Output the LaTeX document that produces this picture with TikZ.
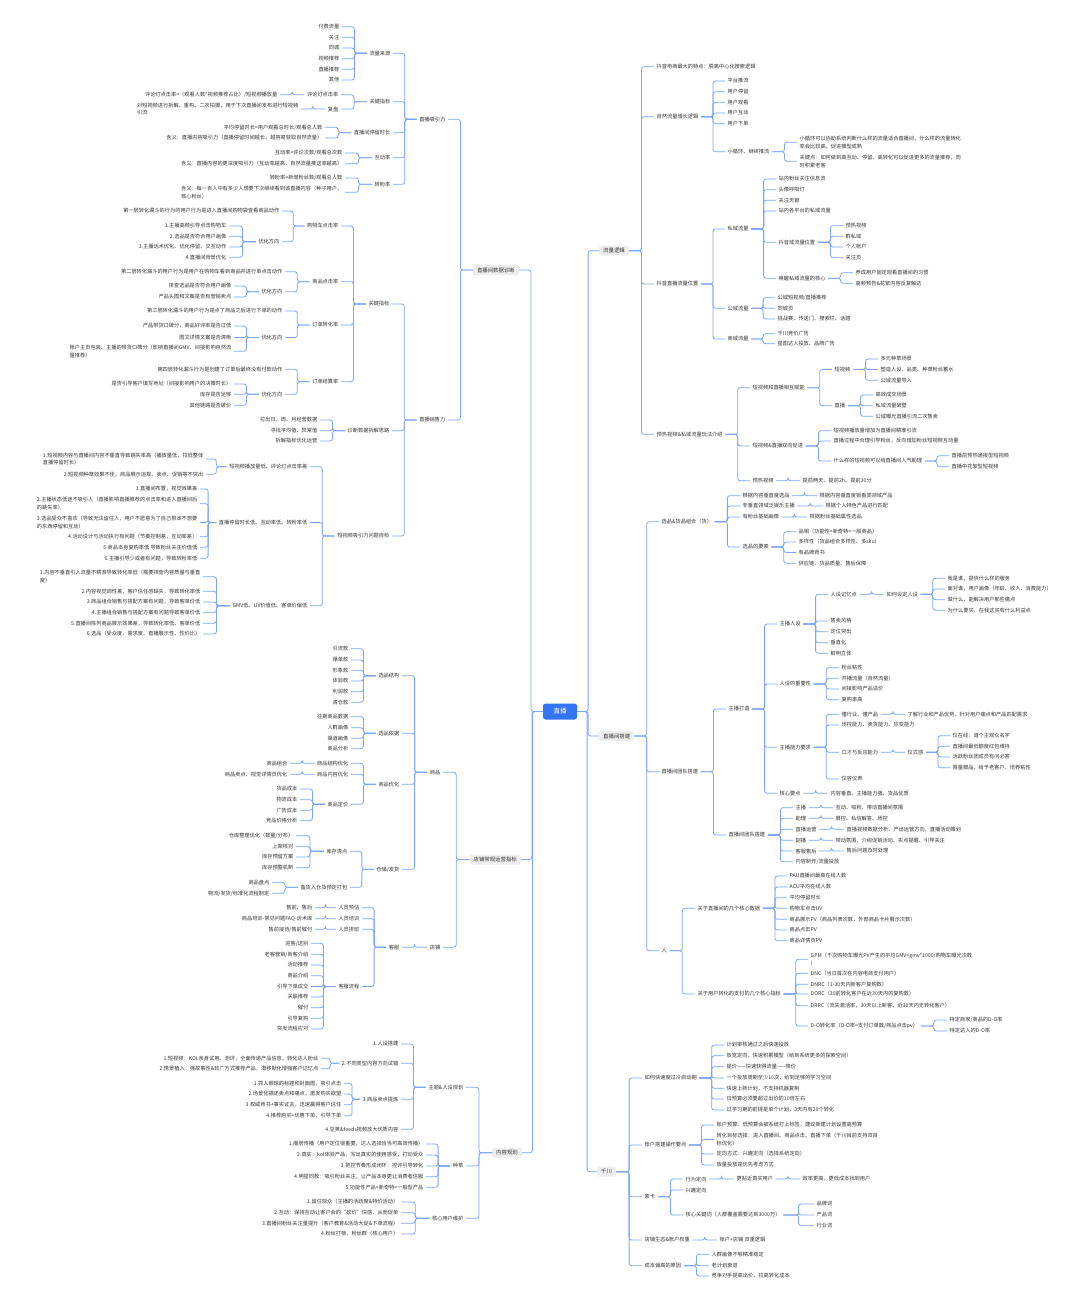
\documentclass[tikz,border=0pt]{standalone}
\usepackage{fontspec}
\setmainfont{Noto Sans CJK SC}
\usetikzlibrary{calc}
\definecolor{linkblue}{RGB}{125,165,248}
\definecolor{rootblue}{RGB}{52,116,247}
\definecolor{topicgray}{RGB}{238,238,238}
\definecolor{textgray}{RGB}{51,51,51}
\newcommand\lk[2]{\foreach \kid in {#2}{\draw[link] let \p1=(#1.west), \p2=(\kid.east) in (#1.west) -- ({(\x1+\x2)/2},\y1) |- (\kid.east);}}
\newcommand\rk[2]{\foreach \kid in {#2}{\draw[link] let \p1=(#1.east), \p2=(\kid.west) in (#1.east) -- ({(\x1+\x2)/2},\y1) |- (\kid.west);}}
\begin{document}
\begin{tikzpicture}[x=1pt, y=-1pt,
    every node/.style={font=\fontsize{5.2}{7.8}\selectfont, text=textgray, inner xsep=2.5pt, inner ysep=1pt},
    ln/.style={anchor=east},
    rn/.style={anchor=west},
    two/.style={align=left},
    topic/.style={fill=topicgray, rounded corners=2pt, inner xsep=4pt, inner ysep=2.5pt, font=\fontsize{5.4}{7}\selectfont},
    rootbox/.style={fill=rootblue, text=white, rounded corners=2.5pt, minimum width=34pt, minimum height=16pt, font=\fontsize{6.5}{8}\selectfont},
    link/.style={draw=linkblue, line width=0.8pt, rounded corners=2.5pt}
]
    \fill[white] (0,0) rectangle (1080,1303);
    \useasboundingbox (0,0) rectangle (1080,1303);

    \node[rootbox] (root) at (560,711.5) {直播};
    \node[topic,ln] (zd) at (519,270) {直播间数据诊断};
    \node[topic,ln] (dp) at (521,859.5) {店铺常规运营指标};
    \node[topic,ln] (nr) at (522,1152.7) {内容规划};
    \node[topic,rn] (ll) at (599,250.7) {流量逻辑};
    \node[topic,rn] (dj) at (599,736) {直播间搭建};
    \node[topic,rn] (qc) at (597,1171.7) {千川};

    \node[ln] (xl) at (448,119.3) {直播吸引力};
    \node[ln] (xs) at (448,420) {直播销售力};
    \node[ln] (lyu) at (393,53.3) {流量来源};
    \node[ln] (gzb) at (393,101.7) {关键指标};
    \node[ln] (tlc) at (393,132.7) {直播间停留时长};
    \node[ln] (hdl) at (393,157.7) {互动率};
    \node[ln] (zfl) at (393,184.3) {转粉率};
    \node[ln] (ly1) at (342,26.7) {付费流量};
    \node[ln] (ly2) at (342,37.3) {关注};
    \node[ln] (ly3) at (342,48) {同城};
    \node[ln] (ly4) at (342,58.7) {视频推荐};
    \node[ln] (ly5) at (342,69.3) {直播推荐};
    \node[ln] (ly6) at (342,80) {其他};
    \node[ln] (pld) at (341,94.7) {评论灯点击率};
    \node[ln] (fp) at (341,109) {复盘};
    \node[ln] (pld1) at (280,94.7) {评论灯点击率=（观看人数*视频推荐占比）/短视频播放量};
    \node[ln,two] (fp1) at (301,109) {对短视频进行拆解、重构、二次拍摄，用于下次直播间发布进行短视频\\引流};
    \node[ln] (tl1) at (325,127.3) {平均停留时长=用户观看总时长/观看总人数};
    \node[ln] (tl2) at (325,138) {含义：直播内容吸引力（直播停留时间越长，越容易获取自然流量）};
    \node[ln] (hd1) at (345,153) {互动率=评论次数/观看总次数};
    \node[ln] (hd2) at (345,163.7) {含义：直播内容的更深度吸引力（互动率越高，自然流量推送率越高）};
    \node[ln] (zf1) at (345,178) {转粉率=新增粉丝数/观看总人数};
    \node[ln,two] (zf2) at (345,192.3) {含义：每一百人中有多少人想要下次继续看到该直播内容（种子用户，\\核心粉丝）};

    \node[ln] (gzx) at (392,304) {关键指标};
    \node[ln] (cjs) at (392,430.7) {诊断数据拆解思路};
    \node[ln] (zjc) at (392,536) {短视频吸引力问题自检};
    \node[ln] (gwc) at (341,226) {购物车点击率};
    \node[ln] (spd) at (341,281.7) {商品点击率};
    \node[ln] (ddz) at (341,325) {订单转化率};
    \node[ln] (dds) at (341,381.7) {订单结算率};
    \node[ln] (gwc1) at (282,211) {第一层转化漏斗的行为的用户行为是进入直播间购物袋查看商品动作};
    \node[ln] (gyh) at (282,241.7) {优化方向};
    \node[ln] (gyh1) at (229,226) {1.主播高频引导点击购物车};
    \node[ln] (gyh2) at (229,236.3) {2.选品是否符合用户画像};
    \node[ln] (gyh3) at (229,247) {3.主播话术优化、优化停留、交互动作};
    \node[ln] (gyh4) at (229,257.3) {4.直播间背景优化};
    \node[ln] (spd1) at (285,271.7) {第二层转化漏斗的用户行为是用户在购物车看到商品并进行单点击动作};
    \node[ln] (syh) at (285,291.7) {优化方向};
    \node[ln] (syh1) at (234,286) {排查选品是否符合用户画像};
    \node[ln] (syh2) at (234,297) {产品头图和文案是否有营销卖点};
    \node[ln] (ddz1) at (285,311) {第三层转化漏斗的用户行为是点了商品之后进行下单的动作};
    \node[ln] (dyh) at (285,337.5) {优化方向};
    \node[ln] (dyh1) at (234,326) {产品带货口碑分，商品好评率是否过低};
    \node[ln] (dyh2) at (234,337.5) {图文详情文案是否清晰};
    \node[ln,two] (dyh3) at (234,351.3) {账户主页包装、主播的带货口碑分（影响直播间GMV、间接影响自然流\\量推荐）};
    \node[ln] (dds1) at (285,369.3) {第四层转化漏斗行为是创建了订单后最终没有付款动作};
    \node[ln] (jyh) at (285,394.3) {优化方向};
    \node[ln] (jyh1) at (234,384) {是否引导客户填写地址（间接影响用户的决策时长）};
    \node[ln] (jyh2) at (234,394.3) {库存是否足够};
    \node[ln] (jyh3) at (234,405.3) {其他链路是否破价};
    \node[ln] (cj1) at (320,420) {拉出日、周、月经营数据};
    \node[ln] (cj2) at (320,430.7) {寻找平均值、异常值};
    \node[ln] (cj3) at (320,441) {拆解指标优化运营};
    \node[ln] (bfl) at (310,466.7) {短视频播放量低、评论灯点击率差};
    \node[ln] (tcl) at (310,522.5) {直播停留时长低、互动率低、转粉率低};
    \node[ln] (gmv) at (310,605.7) {GMV低、UV价值低、客单价偏低};
    \node[ln,two] (bf1) at (206,459) {1.短视频内容与直播间内容不垂直导致跳失率高（播放量低，拉低整体\\直播停留时长）};
    \node[ln] (bf2) at (206,474.3) {2.短视频种草效果不佳，商品展示违规、卖点、促销等不突出};
    \node[ln] (tc1) at (200,489) {1.直播间布置，视觉效果差};
    \node[ln,two] (tc2) at (200,503.7) {2.主播状态低迷不吸引人（直播影响直播推荐的点击率和进入直播间后\\的跳失率）};
    \node[ln,two] (tc3) at (200,522.5) {3.选品受众不喜欢（导致无法留住人，用户不愿意为了自己根本不想要\\的东西停留和互动）};
    \node[ln] (tc4) at (200,536.7) {4.活动设计与活动执行有问题（节奏控制差，互动率差）};
    \node[ln] (tc5) at (200,547.3) {5.商品本身复购率低 导致粉丝关注价值低};
    \node[ln] (tc6) at (200,558.3) {6.主播引导少或者有问题，导致转粉率低};
    \node[ln,two] (gm1) at (203,576.7) {1.内容不垂直引入流量不精准导致转化率低（需要排查内容质量与垂直\\度）};
    \node[ln] (gm2) at (203,591.3) {2.内容视觉调性差，客户信任感缺失，导致转化率低};
    \node[ln] (gm3) at (203,602) {3.商品组合销售与搭配方案有问题，导致客单价低};
    \node[ln] (gm4) at (203,612.7) {4.主播组合销售与搭配方案有问题导致客单价低};
    \node[ln] (gm5) at (203,623.3) {5.直播间陈列商品展示效果差，导致转化率低、客单价低};
    \node[ln] (gm6) at (203,634) {6.选品（受众度、需求度、直播展示性、性价比）};

    \node[ln] (sp) at (443,772.3) {商品};
    \node[ln] (dpu) at (443,947.3) {店铺};
    \node[ln] (xpj) at (402,675.7) {选品结构};
    \node[ln] (xpy) at (402,733.3) {选品依据};
    \node[ln] (spy) at (402,784.3) {商品优化};
    \node[ln] (ccf) at (402,869.3) {仓储/发货};
    \node[ln] (xj1) at (351,648.7) {引流款};
    \node[ln] (xj2) at (351,660) {爆单款};
    \node[ln] (xj3) at (351,670.3) {形象款};
    \node[ln] (xj4) at (351,681) {体验款};
    \node[ln] (xj5) at (351,691.7) {利润款};
    \node[ln] (xj6) at (351,702.3) {清仓款};
    \node[ln] (xy1) at (351,716.7) {往期商品数据};
    \node[ln] (xy2) at (351,727.7) {人群画像};
    \node[ln] (xy3) at (351,738.3) {渠道画像};
    \node[ln] (xy4) at (351,748.7) {商品分析};
    \node[ln] (jgy) at (351,763.3) {商品结构优化};
    \node[ln] (nry) at (351,774.3) {商品内容优化};
    \node[ln] (djg) at (351,804.3) {商品定价};
    \node[ln] (jg1) at (290,763.3) {商品组合};
    \node[ln] (nr1) at (290,774.3) {商品卖点、视觉详情页优化};
    \node[ln] (dg1) at (300,789) {货品成本};
    \node[ln] (dg2) at (300,799.7) {物流成本};
    \node[ln] (dg3) at (300,810.3) {广告成本};
    \node[ln] (dg4) at (300,820.7) {竞品价格分析};
    \node[ln] (kcq) at (350,851.3) {库存清点};
    \node[ln] (bhr) at (350,887.3) {备货入仓及预定打包};
    \node[ln] (kc1) at (296,835.7) {仓库整理优化（数量/分布）};
    \node[ln] (kc2) at (296,846.3) {上架核对};
    \node[ln] (kc3) at (296,857) {库存预留方案};
    \node[ln] (kc4) at (296,867.7) {库存预警机制};
    \node[ln] (bh1) at (272,882.3) {商品盘点};
    \node[ln] (bh2) at (272,893.3) {物流/发货/标准化流程制定};
    \node[ln] (kf) at (402,947.3) {客服};
    \node[ln] (ryg) at (362,907.7) {人员预估};
    \node[ln] (ryp) at (362,918.7) {人员培训};
    \node[ln] (ryb) at (362,929.3) {人员排班};
    \node[ln] (kfl) at (362,986.5) {客服流程};
    \node[ln] (rg1) at (315,907.7) {售前、售后};
    \node[ln] (rp1) at (315,918.7) {商品培训-常见问题FAQ-话术库};
    \node[ln] (rb1) at (315,929.3) {售前接待/售前催付};
    \node[ln] (kl1) at (311,943.3) {迎客/送别};
    \node[ln] (kl2) at (311,954.3) {老客营销/新客介绍};
    \node[ln] (kl3) at (311,965) {活动推荐};
    \node[ln] (kl4) at (311,975.7) {商品介绍};
    \node[ln] (kl5) at (311,986.5) {引导下单成交};
    \node[ln] (kl6) at (311,997) {关联推荐};
    \node[ln] (kl7) at (311,1007.7) {催付};
    \node[ln] (kl8) at (311,1018.3) {引导复购};
    \node[ln] (kl9) at (311,1029) {突发流程应对};

    \node[ln] (ztr) at (466,1087.3) {主题\&人设规划};
    \node[ln] (zcao) at (466,1166) {种草};
    \node[ln] (hxw) at (466,1218.3) {核心用户维护};
    \node[ln] (zt1) at (401,1044) {1.人设搭建};
    \node[ln] (zt2) at (401,1063.3) {2.不同类型内容方向试错};
    \node[ln] (zt3) at (401,1099.3) {3.商品卖点提炼};
    \node[ln] (zt4) at (401,1129.3) {4.豆荚\&feeds视频放大优质内容};
    \node[ln] (ss1) at (321,1058.3) {1.短视频：KOL亲身试用、测评，全面传递产品信息，转化达人粉丝};
    \node[ln] (ss2) at (321,1068.7) {2.情景植入：强故事性\&软广方式推荐产品，潜移默化增强客户记忆点};
    \node[ln] (mx1) at (344,1083.3) {1.抓人眼球的标题和封面图，吸引点击};
    \node[ln] (mx2) at (344,1094) {2.场景化描述卖点和痛点，激发购买欲望};
    \node[ln] (mx3) at (344,1104.7) {3.权威背书+事实证言，迅速赢得客户信任};
    \node[ln] (mx4) at (344,1115.7) {4.推荐购买+优惠下单，引导下单};
    \node[ln] (zc1) at (426,1144) {1.圈层传播（用户定位很重要，达人选择恰当可高效传播）};
    \node[ln] (zc2) at (426,1155) {2.真实：kol体验产品，写出真实的使用感受，打动受众};
    \node[ln] (zc3) at (426,1166) {3.把控节奏形成闭环：控评引导转化};
    \node[ln] (zc4) at (426,1176.7) {4.明星同款：吸引粉丝关注，让产品本身更让消费者信服};
    \node[ln] (zc5) at (426,1187.3) {5.功能性产品>新奇特>一般型产品};
    \node[ln] (hw1) at (401,1202) {1.留住观众（主播的活跃度\&特价活动）};
    \node[ln] (hw2) at (401,1212.7) {2.互动：保持互动让客户会的“砍价”快感，从而促单};
    \node[ln] (hw3) at (401,1223.3) {3.直播间粉丝关注量提升（客户教育\&活动大促\&下单流程）};
    \node[ln] (hw4) at (401,1234) {4.粉丝打榜，粉丝群（核心用户）};

    \node[rn] (tsd) at (654,66.7) {抖音电商最大的特点：脱离中心化搜索逻辑};
    \node[rn] (zrl) at (654,116.7) {自然流量增长逻辑};
    \node[rn] (dwz) at (654,284) {抖音直播流量位置};
    \node[rn] (yrv) at (654,434.3) {预热视频\&私域流量玩法介绍};
    \node[rn] (zr1) at (725,81) {平台推流};
    \node[rn] (zr2) at (725,91.7) {用户停留};
    \node[rn] (zr3) at (725,102.3) {用户观看};
    \node[rn] (zr4) at (725,113) {用户互动};
    \node[rn] (zr5) at (725,123.7) {用户下单};
    \node[rn] (xhl) at (725,151.7) {小循环、继续推流};
    \node[rn,two] (xh1) at (797,142.2) {小循环可以协助系统判断什么样的流量适合直播间，什么样的流量转化\\率会比较高，促进模型成熟};
    \node[rn,two] (xh2) at (797,161.2) {关键点：如何做到高互动、停留、高转化可以促进更多的流量推荐，同\\时积累老客};
    \node[rn] (syl) at (725,229) {私域流量};
    \node[rn] (gyl) at (725,308.3) {公域流量};
    \node[rn] (shl) at (725,339) {商域流量};
    \node[rn] (sl1) at (776,179) {站内粉丝关注信息流};
    \node[rn] (sl2) at (776,189.7) {头像呼吸灯};
    \node[rn] (sl3) at (776,200.3) {关注天窗};
    \node[rn] (sl4) at (776,211) {站内各平台的私域流量};
    \node[rn] (dyw) at (776,242.3) {抖音域流量位置};
    \node[rn] (hxx) at (776,278.3) {唤醒私域流量的核心};
    \node[rn] (dw1) at (843,225.7) {预热视频};
    \node[rn] (dw2) at (843,236.3) {群私域};
    \node[rn] (dw3) at (843,247) {个人账户};
    \node[rn] (dw4) at (843,257.7) {关注页};
    \node[rn] (hx1) at (853,272.7) {养成用户固定观看直播间的习惯};
    \node[rn] (hx2) at (853,283.3) {高频预告\&花絮内容反复触达};
    \node[rn] (gl1) at (775,297.7) {公域短视频/直播推荐};
    \node[rn] (gl2) at (775,308.3) {同城页};
    \node[rn] (gl3) at (775,319) {挑战赛、传送门、搜索栏、话题};
    \node[rn] (sh1) at (775,333.7) {千川竞价广告};
    \node[rn] (sh2) at (775,343.7) {星图达人投放、品牌广告};
    \node[rn] (fnx) at (750,387.7) {短视频和直播相互赋能};
    \node[rn] (sxc) at (750,446) {短视频\&直播双向促进};
    \node[rn] (yrs) at (750,480.7) {预热视频};
    \node[rn] (fdsp) at (832,369.5) {短视频};
    \node[rn] (fzb) at (832,405.7) {直播};
    \node[rn] (fd1) at (878,359) {多元种草场景};
    \node[rn] (fd2) at (878,369.5) {塑造人设、品类、种草粉丝蓄水};
    \node[rn] (fd3) at (878,380.3) {公域流量导入};
    \node[rn] (fz1) at (873,395) {高效成交场景};
    \node[rn] (fz2) at (873,405.7) {私域流量破壁};
    \node[rn] (fz3) at (873,416.3) {公域曝光直播引流二次售卖};
    \node[rn] (sx1) at (831,430.7) {短视频播放量增加为直播间精准引流};
    \node[rn] (sx2) at (831,441) {直播过程中合理引导粉丝，反向增加粉丝短视频互动量};
    \node[rn] (rqz) at (831,461) {什么样的短视频可以给直播间人气助理};
    \node[rn] (rq1) at (949,455.7) {直播前预热通报型短视频};
    \node[rn] (rq2) at (949,466.7) {直播中花絮型短视频};
    \node[rn] (ys1) at (800,480.7) {提前两天、提前2h、提前30分};

    \node[rn] (xph) at (659,521.7) {选品\&货品组合（货）};
    \node[rn] (tdj) at (659,771.7) {直播间团队搭建};
    \node[rn] (ren) at (659,950.7) {人};
    \node[rn] (xp1) at (740,495.7) {根据内容垂直度选品};
    \node[rn] (xp2) at (740,506) {非垂直领域泛娱乐主播};
    \node[rn] (xp3) at (740,517) {有粉丝基础画像};
    \node[rn] (xpyz) at (740,547) {选品的要素};
    \node[rn] (xq1) at (817,495.7) {根据内容垂直度锁垂类领域产品};
    \node[rn] (xq2) at (823,506) {根据个人特色产品进行匹配};
    \node[rn] (xq3) at (807,517) {根据粉丝基础属性选品};
    \node[rn] (yz1) at (796,531.7) {品相（功能性>新奇特>一般商品）};
    \node[rn] (yz2) at (796,542) {多样性（货品组合多样性、多sku）};
    \node[rn] (yz3) at (796,552.5) {有品牌背书};
    \node[rn] (yz4) at (796,563.3) {供应链、货品质量、售后保障};
    \node[rn] (zbd) at (726,709) {主播打造};
    \node[rn] (tdj2) at (726,835) {直播间团队搭建};
    \node[rn] (zbr) at (777,624) {主播人设};
    \node[rn] (rsz) at (777,684) {人设的重要性};
    \node[rn] (nly) at (777,747.3) {主播能力要求};
    \node[rn] (hyd) at (777,793.3) {核心要点};
    \node[rn] (jyd) at (828,594.3) {人设记忆点};
    \node[rn] (mf1) at (828,621) {售卖风格};
    \node[rn] (mf2) at (828,631.7) {定位突出};
    \node[rn] (mf3) at (828,642.7) {垂直化};
    \node[rn] (mf4) at (828,653.3) {鲜明立体};
    \node[rn] (rsd) at (884,594.3) {如何设定人设};
    \node[rn] (rd1) at (945,578.3) {我是谁，提供什么样的服务};
    \node[rn] (rd2) at (945,589) {面对谁，用户画像（年龄、收入、消费能力）};
    \node[rn] (rd3) at (945,599.7) {做什么，能解决用户那些痛点};
    \node[rn] (rd4) at (945,610.3) {为什么要买，在我这买有什么利益点};
    \node[rn] (rz1) at (839,667.7) {粉丝粘性};
    \node[rn] (rz2) at (839,678.3) {开播流量（自然流量）};
    \node[rn] (rz3) at (839,689) {间接影响产品溢价};
    \node[rn] (rz4) at (839,699.7) {复购率高};
    \node[rn] (dhy) at (839,714.3) {懂行业、懂产品};
    \node[rn] (ny2) at (839,725) {场控能力、卖货能力、应变能力};
    \node[rn] (kcf) at (839,752.3) {口才与反应能力};
    \node[rn] (ny4) at (839,779) {仪容仪表};
    \node[rn] (dh1) at (905,714.3) {了解行业和产品优势，针对用户痛点和产品匹配需求};
    \node[rn] (ysg) at (905,752.3) {仪式感};
    \node[rn] (yg1) at (950,735.7) {仪在线：道个主观众名字};
    \node[rn] (yg2) at (950,746.3) {直播间最低额度红包维持};
    \node[rn] (yg3) at (950,757) {活跃粉丝团成员有问必答};
    \node[rn] (yg4) at (950,767.7) {限量赠品，给予老客户，培养粘性};
    \node[rn] (hy1) at (828,793.3) {内容垂直、主播能力强、货品优质};
    \node[rn] (tm1) at (793,807.7) {主播};
    \node[rn] (tm2) at (793,818.3) {助理};
    \node[rn] (tm3) at (793,829.3) {直播运营};
    \node[rn] (tm4) at (793,840.3) {副播};
    \node[rn] (tm5) at (793,851) {客服售后};
    \node[rn] (tm6) at (793,861.7) {内容制作/流量投放};
    \node[rn] (tq1) at (833,807.7) {互动、吸粉、带动直播间氛围};
    \node[rn] (tq2) at (833,818.3) {展控、私信解答、场控};
    \node[rn] (tq3) at (844,829.3) {直播视频数据分析、产出运营方向、直播活动策划};
    \node[rn] (tq4) at (833,840.3) {带动氛围、介绍促销活动、实点提醒、引导关注};
    \node[rn] (tq5) at (844,851) {售后问题及时处理};
    \node[rn] (hsj) at (695,908.3) {关于直播间的几个核心数据};
    \node[rn] (zhz) at (695,994) {关于用户转化的支付的几个核心指标};
    \node[rn] (hs1) at (787,876) {PAU直播间最高在线人数};
    \node[rn] (hs2) at (787,887) {ACU平均在线人数};
    \node[rn] (hs3) at (787,897.7) {平均停留时长};
    \node[rn] (hs4) at (787,908.3) {购物车点击UV};
    \node[rn] (hs5) at (787,919.3) {商品展示PV（商品列表次数，外部商品卡片展示次数）};
    \node[rn] (hs6) at (787,930) {商品点击PV};
    \node[rn] (hs7) at (787,940.7) {商品详情页PV};
    \node[rn,two] (gpm) at (808,959.3) {GPM（千次购物车曝光PV产生的平均GMV=gmv*1000/购物车曝光次数\\）};
    \node[rn] (dnc) at (808,973.3) {DNC（当日首次在内容电商支付用户）};
    \node[rn] (dnrc) at (808,984.3) {DNRC（1-30天内新客户复购数）};
    \node[rn] (dorc) at (808,994) {DORC（30前转化客户在近30天内的复购数）};
    \node[rn] (drrc) at (808,1005.7) {DRRC（流失激活率，30天以上新客，近30天内无转化客户）};
    \node[rn] (dor) at (808,1026) {D-O转化率（D-O率=支付订单数/商品点击pv）};
    \node[rn] (do1) at (947,1020) {特定商家/商品的D-O率};
    \node[rn] (do2) at (947,1031) {特定达人的D-O率};

    \node[rn] (lqd) at (642,1078) {如何快速度过冷启动期};
    \node[rn] (zhd) at (642,1145) {账户搭建操作要点};
    \node[rn] (skd) at (642,1196.7) {素卡};
    \node[rn] (dst) at (642,1240) {店铺生态\&账户权重};
    \node[rn] (cbg) at (642,1265.7) {成本偏高的原因};
    \node[rn] (lq1) at (724,1045) {计划审核通过之后快速投放};
    \node[rn] (lq2) at (724,1055.7) {放宽定向，快速积累模型（给到系统更多的探索空间）};
    \node[rn] (lq3) at (724,1066.7) {提价——快速获得流量——降价};
    \node[rn] (lq4) at (724,1078) {一个投放周期至少10次，给到足够的学习空间};
    \node[rn] (lq5) at (724,1088.3) {快速上新计划，不支持机器复制};
    \node[rn] (lq6) at (724,1099) {日预算必须要超过出价的10倍左右};
    \node[rn] (lq7) at (724,1110) {过学习期的前提是单个计划，3天内有20个转化};
    \node[rn] (ah1) at (714,1125) {账户预算：低预算会被系统打上标签，建议新建计划设置高预算};
    \node[rn,two] (ah2) at (714,1139.5) {转化目标选择：进入直播间、商品点击、直播下单（千川目前支持双目\\标优化）};
    \node[rn] (ah3) at (714,1154) {定向方式：兴趣定向（选择系统定向）};
    \node[rn] (ah4) at (714,1165) {放量投放是优先考虑方式};
    \node[rn] (xwd) at (683,1179) {行为定向};
    \node[rn] (xqd) at (683,1190) {兴趣定向};
    \node[rn] (gjc) at (683,1215) {核心关键词（人群覆盖需要达到3000万）};
    \node[rn] (xlg) at (734,1179) {更贴近真实用户};
    \node[rn] (xlh) at (800,1179) {效率更高，更低成本找到用户};
    \node[rn] (gj1) at (814,1204) {品牌词};
    \node[rn] (gj2) at (814,1215) {产品词};
    \node[rn] (gj3) at (814,1225.7) {行业词};
    \node[rn] (ds1) at (717,1240) {账户+店铺 双重逻辑};
    \node[rn] (cb1) at (709,1254.3) {人群画像不够精准稳定};
    \node[rn] (cb2) at (709,1265.7) {老计划衰退};
    \node[rn] (cb3) at (709,1276) {竞争对手提高出价，拉高转化成本};

    \lk{root}{zd,dp,nr}
    \rk{root}{ll,dj,qc}
    \lk{zd}{xl,xs}
    \lk{xl}{lyu,gzb,tlc,hdl,zfl}
    \lk{lyu}{ly1,ly2,ly3,ly4,ly5,ly6}
    \lk{gzb}{pld,fp}
    \lk{pld}{pld1}
    \lk{fp}{fp1}
    \lk{tlc}{tl1,tl2}
    \lk{hdl}{hd1,hd2}
    \lk{zfl}{zf1,zf2}
    \lk{xs}{gzx,cjs,zjc}
    \lk{gzx}{gwc,spd,ddz,dds}
    \lk{gwc}{gwc1,gyh}
    \lk{gyh}{gyh1,gyh2,gyh3,gyh4}
    \lk{spd}{spd1,syh}
    \lk{syh}{syh1,syh2}
    \lk{ddz}{ddz1,dyh}
    \lk{dyh}{dyh1,dyh2,dyh3}
    \lk{dds}{dds1,jyh}
    \lk{jyh}{jyh1,jyh2,jyh3}
    \lk{cjs}{cj1,cj2,cj3}
    \lk{zjc}{bfl,tcl,gmv}
    \lk{bfl}{bf1,bf2}
    \lk{tcl}{tc1,tc2,tc3,tc4,tc5,tc6}
    \lk{gmv}{gm1,gm2,gm3,gm4,gm5,gm6}
    \lk{dp}{sp,dpu}
    \lk{sp}{xpj,xpy,spy,ccf}
    \lk{xpj}{xj1,xj2,xj3,xj4,xj5,xj6}
    \lk{xpy}{xy1,xy2,xy3,xy4}
    \lk{spy}{jgy,nry,djg}
    \lk{jgy}{jg1}
    \lk{nry}{nr1}
    \lk{djg}{dg1,dg2,dg3,dg4}
    \lk{ccf}{kcq,bhr}
    \lk{kcq}{kc1,kc2,kc3,kc4}
    \lk{bhr}{bh1,bh2}
    \lk{dpu}{kf}
    \lk{kf}{ryg,ryp,ryb,kfl}
    \lk{ryg}{rg1}
    \lk{ryp}{rp1}
    \lk{ryb}{rb1}
    \lk{kfl}{kl1,kl2,kl3,kl4,kl5,kl6,kl7,kl8,kl9}
    \lk{nr}{ztr,zcao,hxw}
    \lk{ztr}{zt1,zt2,zt3,zt4}
    \lk{zt2}{ss1,ss2}
    \lk{zt3}{mx1,mx2,mx3,mx4}
    \lk{zcao}{zc1,zc2,zc3,zc4,zc5}
    \lk{hxw}{hw1,hw2,hw3,hw4}

    \rk{ll}{tsd,zrl,dwz,yrv}
    \rk{zrl}{zr1,zr2,zr3,zr4,zr5,xhl}
    \rk{xhl}{xh1,xh2}
    \rk{dwz}{syl,gyl,shl}
    \rk{syl}{sl1,sl2,sl3,sl4,dyw,hxx}
    \rk{dyw}{dw1,dw2,dw3,dw4}
    \rk{hxx}{hx1,hx2}
    \rk{gyl}{gl1,gl2,gl3}
    \rk{shl}{sh1,sh2}
    \rk{yrv}{fnx,sxc,yrs}
    \rk{fnx}{fdsp,fzb}
    \rk{fdsp}{fd1,fd2,fd3}
    \rk{fzb}{fz1,fz2,fz3}
    \rk{sxc}{sx1,sx2,rqz}
    \rk{rqz}{rq1,rq2}
    \rk{yrs}{ys1}
    \rk{dj}{xph,tdj,ren}
    \rk{xph}{xp1,xp2,xp3,xpyz}
    \rk{xp1}{xq1}
    \rk{xp2}{xq2}
    \rk{xp3}{xq3}
    \rk{xpyz}{yz1,yz2,yz3,yz4}
    \rk{tdj}{zbd,tdj2}
    \rk{zbd}{zbr,rsz,nly,hyd}
    \rk{zbr}{jyd,mf1,mf2,mf3,mf4}
    \rk{jyd}{rsd}
    \rk{rsd}{rd1,rd2,rd3,rd4}
    \rk{rsz}{rz1,rz2,rz3,rz4}
    \rk{nly}{dhy,ny2,kcf,ny4}
    \rk{dhy}{dh1}
    \rk{kcf}{ysg}
    \rk{ysg}{yg1,yg2,yg3,yg4}
    \rk{hyd}{hy1}
    \rk{tdj2}{tm1,tm2,tm3,tm4,tm5,tm6}
    \rk{tm1}{tq1}
    \rk{tm2}{tq2}
    \rk{tm3}{tq3}
    \rk{tm4}{tq4}
    \rk{tm5}{tq5}
    \rk{ren}{hsj,zhz}
    \rk{hsj}{hs1,hs2,hs3,hs4,hs5,hs6,hs7}
    \rk{zhz}{gpm,dnc,dnrc,dorc,drrc,dor}
    \rk{dor}{do1,do2}
    \rk{qc}{lqd,zhd,skd,dst,cbg}
    \rk{lqd}{lq1,lq2,lq3,lq4,lq5,lq6,lq7}
    \rk{zhd}{ah1,ah2,ah3,ah4}
    \rk{skd}{xwd,xqd,gjc}
    \rk{xwd}{xlg}
    \rk{xlg}{xlh}
    \rk{gjc}{gj1,gj2,gj3}
    \rk{dst}{ds1}
    \rk{cbg}{cb1,cb2,cb3}
\end{tikzpicture}
\end{document}
